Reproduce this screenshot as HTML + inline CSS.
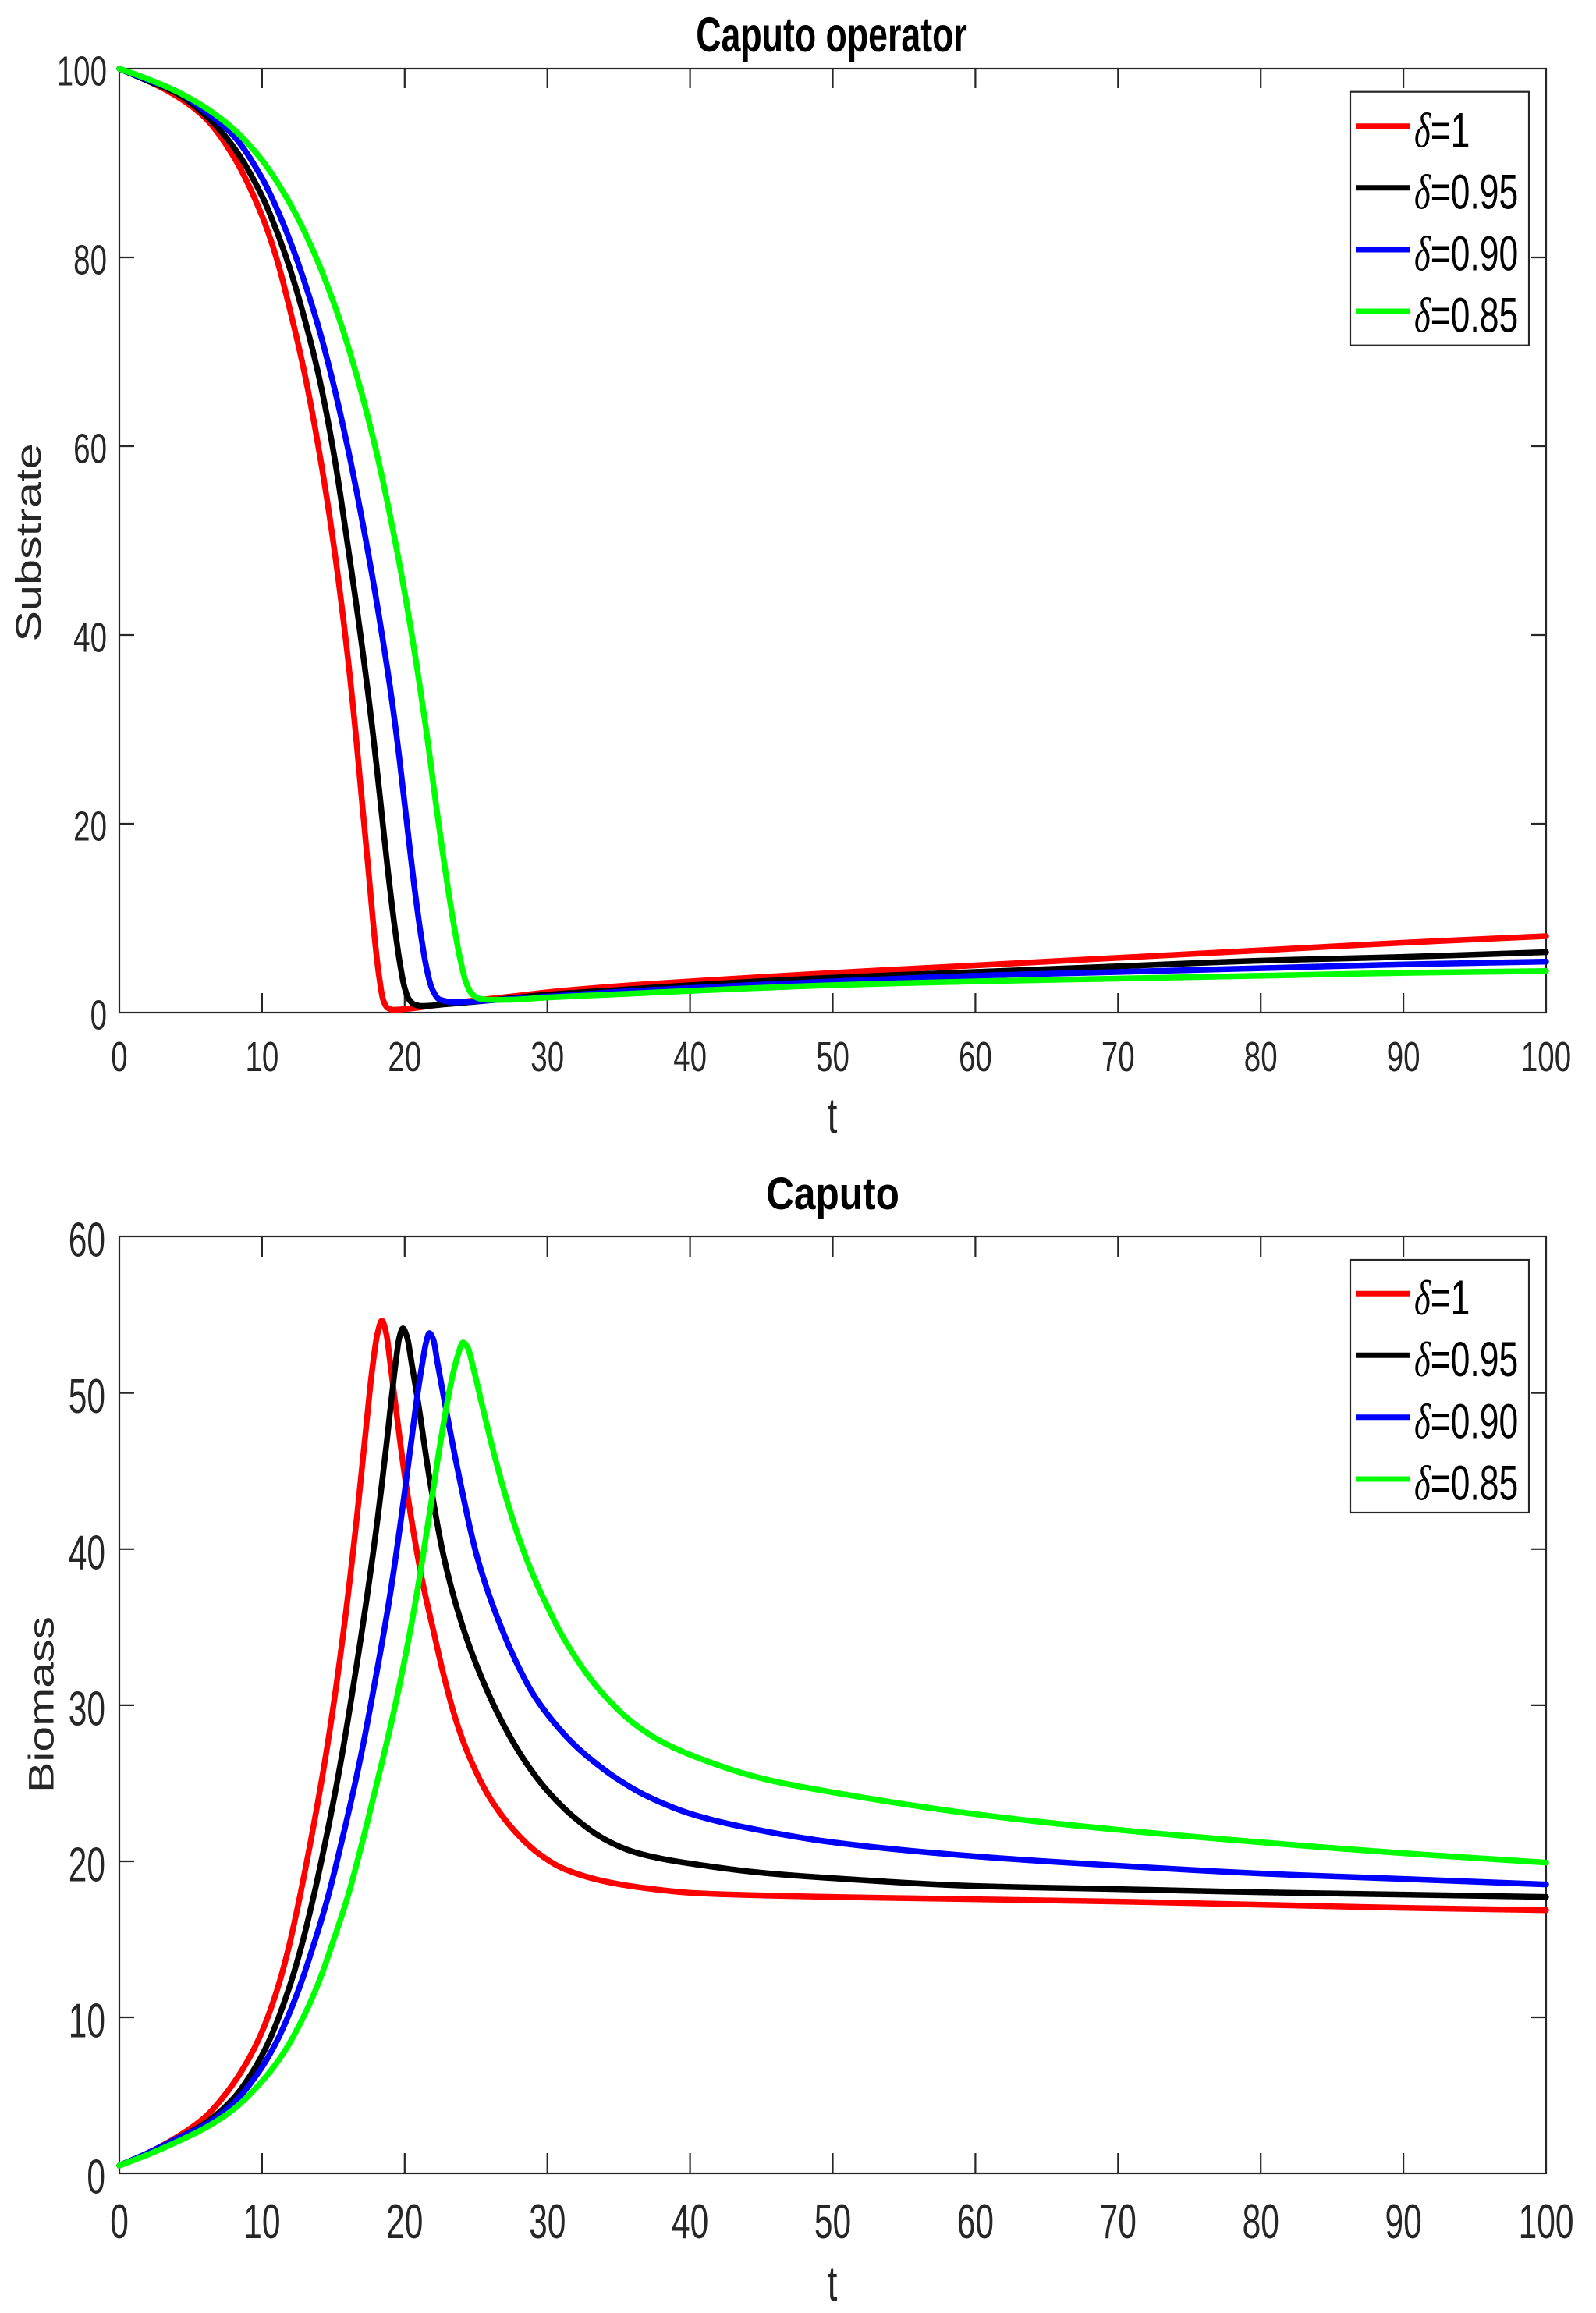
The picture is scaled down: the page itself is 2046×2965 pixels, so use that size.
<!DOCTYPE html>
<html>
<head>
<meta charset="utf-8">
<style>
html,body{margin:0;padding:0;background:#fff;}
svg{display:block;}
.tk{font-family:"Liberation Sans",sans-serif;fill:#262626;}
.lg{font-family:"Liberation Sans",sans-serif;fill:#000;}
.tt{font-family:"Liberation Sans",sans-serif;font-weight:bold;fill:#000;}
.cv{fill:none;stroke-width:7.5;stroke-linejoin:round;stroke-linecap:round;}
</style>
</head>
<body>
<svg width="2046" height="2965" viewBox="0 0 2046 2965" xmlns="http://www.w3.org/2000/svg">
<rect x="0" y="0" width="2046" height="2965" fill="#fff"/>

<!-- ================= TOP PLOT ================= -->
<text class="tt" font-size="44.7" text-anchor="middle" transform="translate(1066,66) scale(1,1.406)">Caputo operator</text>

<g fill="none" stroke="#262626" stroke-width="2.2">
<rect x="153" y="88" width="1829" height="1210"/>
<path d="M335.9 1298V1273M518.8 1298V1273M701.7 1298V1273M884.6 1298V1273M1067.5 1298V1273M1250.4 1298V1273M1433.3 1298V1273M1616.2 1298V1273M1799.1 1298V1273
M335.9 88V113M518.8 88V113M701.7 88V113M884.6 88V113M1067.5 88V113M1250.4 88V113M1433.3 88V113M1616.2 88V113M1799.1 88V113
M153 1056H172M153 814H172M153 572H172M153 330H172
M1982 1056H1963M1982 814H1963M1982 572H1963M1982 330H1963"/>
</g>

<g class="tk" font-size="38.5" text-anchor="middle">
<text transform="translate(153,1373) scale(1,1.39)">0</text>
<text transform="translate(335.9,1373) scale(1,1.39)">10</text>
<text transform="translate(518.8,1373) scale(1,1.39)">20</text>
<text transform="translate(701.7,1373) scale(1,1.39)">30</text>
<text transform="translate(884.6,1373) scale(1,1.39)">40</text>
<text transform="translate(1067.5,1373) scale(1,1.39)">50</text>
<text transform="translate(1250.4,1373) scale(1,1.39)">60</text>
<text transform="translate(1433.3,1373) scale(1,1.39)">70</text>
<text transform="translate(1616.2,1373) scale(1,1.39)">80</text>
<text transform="translate(1799.1,1373) scale(1,1.39)">90</text>
<text transform="translate(1982,1373) scale(1,1.39)">100</text>
</g>
<g class="tk" font-size="38.5" text-anchor="end">
<text transform="translate(137,1319.5) scale(1,1.39)">0</text>
<text transform="translate(137,1077.5) scale(1,1.39)">20</text>
<text transform="translate(137,835.5) scale(1,1.39)">40</text>
<text transform="translate(137,593.5) scale(1,1.39)">60</text>
<text transform="translate(137,351.5) scale(1,1.39)">80</text>
<text transform="translate(137,109.5) scale(1,1.39)">100</text>
</g>
<text class="tk" font-size="46" text-anchor="middle" transform="translate(1067,1452) scale(1,1.4)">t</text>
<text class="tk" font-size="45" text-anchor="middle" transform="translate(52,695.5) scale(1,1.32) rotate(-90)">Substrate</text>

<g transform="translate(153 1298) scale(18.29 -12.1)">
<polyline class="cv" vector-effect="non-scaling-stroke" stroke="#ff0000" points="0,100 2,98.7 4,97.1 6,94.8 8,90.7 10,84.4 11,80 12,74.2 13,67.6 14,59.5 15,49.8 16,37.8 16.5,30.6 17,22.5 17.5,14.4 17.9,7.8 18.2,3.9 18.5,1.3 18.8,0.5 19.2,0.3 20.5,0.45 22,0.75 25,1.3 28,1.8 30,2.15 35,2.8 40,3.3 50,4.2 60,5.0 70,5.8 80,6.6 90,7.4 100,8.1"/>
<polyline class="cv" vector-effect="non-scaling-stroke" stroke="#000000" points="0,100 2,98.7 4,97.4 6,95.1 8,91.7 10,86.5 11,82.9 12,78.6 13,73.4 14,67.3 15,59.5 16,49.6 17,38.9 17.7,30.5 18.24,23.2 18.6,18.1 18.97,13.1 19.35,8.5 19.7,4.9 20,2.6 20.3,1.4 20.7,0.85 21.2,0.7 23,0.9 26,1.3 30,1.9 35,2.4 40,2.9 50,3.7 60,4.3 70,4.9 80,5.5 90,5.9 100,6.4"/>
<polyline class="cv" vector-effect="non-scaling-stroke" stroke="#0000ff" points="0,100 2,98.8 4,97.6 6,95.5 8,92.9 10,88.4 11,85.3 12,81.6 13,77.3 14,72.4 15,66.6 16,59.9 17,52.3 17.88,44.9 18.4,40.1 18.97,34.5 19.5,28.5 20.06,21.3 20.45,16.2 20.79,12 21.2,7.6 21.52,4.8 21.9,2.6 22.43,1.4 23.5,1.1 26,1.3 30,1.7 35,2.2 40,2.6 50,3.3 60,3.9 70,4.3 80,4.7 90,5.1 100,5.4"/>
<polyline class="cv" vector-effect="non-scaling-stroke" stroke="#00ff00" points="0,100 2,98.9 4,97.6 6,95.9 8,93.6 10,90.3 12,85.6 13.5,81 15,75.3 16.5,68.2 18,59.5 19.5,48.6 20.5,40 21.5,30 22.3,20.9 23,13.5 23.5,8.8 23.9,5.6 24.3,3.2 24.7,2.0 25.2,1.5 26,1.35 27,1.35 30,1.6 35,1.95 40,2.3 50,2.9 60,3.3 70,3.6 80,3.9 90,4.2 100,4.4"/>
</g>

<rect x="1731" y="117.7" width="229" height="325" fill="#fff" stroke="#262626" stroke-width="2.2"/>
<g stroke-width="7">
<line x1="1738" y1="161.7" x2="1808" y2="161.7" stroke="#ff0000"/>
<line x1="1738" y1="240.7" x2="1808" y2="240.7" stroke="#000000"/>
<line x1="1738" y1="320" x2="1808" y2="320" stroke="#0000ff"/>
<line x1="1738" y1="399" x2="1808" y2="399" stroke="#00ff00"/>
</g>
<g class="lg" font-size="44.5">
<text transform="translate(1813,188.3) scale(1,1.42)"><tspan font-family="Liberation Serif" font-style="italic">δ</tspan>=1</text>
<text transform="translate(1813,267.3) scale(1,1.42)"><tspan font-family="Liberation Serif" font-style="italic">δ</tspan>=0.95</text>
<text transform="translate(1813,346.6) scale(1,1.42)"><tspan font-family="Liberation Serif" font-style="italic">δ</tspan>=0.90</text>
<text transform="translate(1813,425.6) scale(1,1.42)"><tspan font-family="Liberation Serif" font-style="italic">δ</tspan>=0.85</text>
</g>

<!-- ================= BOTTOM PLOT ================= -->
<text class="tt" font-size="49.6" text-anchor="middle" transform="translate(1067.5,1550) scale(1,1.18)">Caputo</text>

<g fill="none" stroke="#262626" stroke-width="2.2">
<rect x="153" y="1585" width="1829" height="1201"/>
<path d="M335.9 2786V2760M518.8 2786V2760M701.7 2786V2760M884.6 2786V2760M1067.5 2786V2760M1250.4 2786V2760M1433.3 2786V2760M1616.2 2786V2760M1799.1 2786V2760
M335.9 1585V1611M518.8 1585V1611M701.7 1585V1611M884.6 1585V1611M1067.5 1585V1611M1250.4 1585V1611M1433.3 1585V1611M1616.2 1585V1611M1799.1 1585V1611
M153 2586H172M153 2386H172M153 2185.9H172M153 1985.8H172M153 1785.6H172
M1982 2586H1963M1982 2386H1963M1982 2185.9H1963M1982 1985.8H1963M1982 1785.6H1963"/>
</g>

<g class="tk" font-size="42.5" text-anchor="middle">
<text transform="translate(153,2869) scale(1,1.47)">0</text>
<text transform="translate(335.9,2869) scale(1,1.47)">10</text>
<text transform="translate(518.8,2869) scale(1,1.47)">20</text>
<text transform="translate(701.7,2869) scale(1,1.47)">30</text>
<text transform="translate(884.6,2869) scale(1,1.47)">40</text>
<text transform="translate(1067.5,2869) scale(1,1.47)">50</text>
<text transform="translate(1250.4,2869) scale(1,1.47)">60</text>
<text transform="translate(1433.3,2869) scale(1,1.47)">70</text>
<text transform="translate(1616.2,2869) scale(1,1.47)">80</text>
<text transform="translate(1799.1,2869) scale(1,1.47)">90</text>
<text transform="translate(1982,2869) scale(1,1.47)">100</text>
</g>
<g class="tk" font-size="42.5" text-anchor="end">
<text transform="translate(135,2811.5) scale(1,1.47)">0</text>
<text transform="translate(135,2611.5) scale(1,1.47)">10</text>
<text transform="translate(135,2411.5) scale(1,1.47)">20</text>
<text transform="translate(135,2211.4) scale(1,1.47)">30</text>
<text transform="translate(135,2011.3) scale(1,1.47)">40</text>
<text transform="translate(135,1811.1) scale(1,1.47)">50</text>
<text transform="translate(135,1610.5) scale(1,1.47)">60</text>
</g>
<text class="tk" font-size="46" text-anchor="middle" transform="translate(1067,2949) scale(1,1.4)">t</text>
<text class="tk" font-size="45" text-anchor="middle" transform="translate(68.3,2185) scale(1,1.31) rotate(-90)">Biomass</text>

<g transform="translate(153 2786) scale(18.29 -20.02)">
<polyline class="cv" vector-effect="non-scaling-stroke" stroke="#ff0000" points="0,0.5 2,1.3 4,2.3 6,3.6 7.38,5.0 8.6,6.6 9.82,8.7 11.04,11.7 11.8,14.2 12.51,17.1 13.5,21.7 14.46,26.7 15.2,31.2 15.93,36.3 16.6,41.6 17.2,46.9 17.74,51.6 18.1,53.8 18.4,54.6 18.7,53.8 19,51.8 19.3,49.6 20.03,44.5 21.2,38.1 22,34.8 22.76,31.8 23.6,29.0 24.52,26.7 26,24.0 28.03,21.6 29.5,20.4 31.16,19.5 34,18.7 37,18.25 40.3,17.95 45,17.8 50,17.7 60,17.55 70,17.4 80,17.2 90,17.0 100,16.85"/>
<polyline class="cv" vector-effect="non-scaling-stroke" stroke="#000000" points="0,0.5 2,1.3 4,2.2 6,3.2 8,4.8 9.2,6.3 10.4,8.3 11.8,11.6 12.6,14.0 13.48,17.2 14.5,21.5 15.53,26.4 16.4,31.2 17.29,36.5 18,41.2 18.7,46.5 19.1,49.8 19.38,52.0 19.62,53.5 19.87,54.1 20.15,53.6 20.5,51.8 20.9,49.6 21.74,44.5 22.76,39.4 24,35.2 25.5,31.5 27,28.6 28.5,26.3 30,24.5 32,22.7 34,21.4 36,20.6 38,20.15 40.3,19.8 45,19.25 50,18.9 60,18.4 70,18.2 80,18.0 90,17.85 100,17.7"/>
<polyline class="cv" vector-effect="non-scaling-stroke" stroke="#0000ff" points="0,0.5 2,1.3 4,2.2 6,3.1 8,4.5 9.7,6.4 11,8.4 12.5,11.6 13.5,14.3 14.56,17.5 15.7,21.7 16.9,26.6 17.9,31.4 18.95,36.9 19.7,41.6 20.48,47.0 20.9,49.9 21.26,52.0 21.5,53.2 21.73,53.8 22.0,53.4 22.3,51.9 22.76,49.6 23.84,44.5 25.1,39.4 27.06,34.3 28.5,31.5 29,30.7 30,29.4 31,28.3 32,27.35 33,26.55 35,25.2 37,24.15 40.3,22.95 45,21.95 50,21.2 60,20.3 70,19.7 80,19.2 90,18.85 100,18.5"/>
<polyline class="cv" vector-effect="non-scaling-stroke" stroke="#00ff00" points="0,0.5 2,1.2 4,2.0 6,2.9 8,4.1 10,5.9 11.5,7.7 13,10.2 14,12.3 15,14.9 16,17.7 17,21.1 18,24.8 19,28.6 20,32.9 20.81,36.9 21.7,42.0 22.56,47.1 23.2,50.4 23.7,52.3 24.09,53.2 24.4,52.9 24.8,51.6 25.4,49.3 26.2,46.3 27,43.6 28,40.7 29,38.3 30,36.3 31,34.5 32,33.0 33,31.7 34,30.6 36,28.85 38,27.65 40.3,26.7 45,25.3 50,24.4 60,23.0 70,22.0 80,21.2 90,20.5 100,19.9"/>
</g>

<rect x="1731" y="1615" width="229" height="324" fill="#fff" stroke="#262626" stroke-width="2.2"/>
<g stroke-width="7">
<line x1="1738" y1="1658.3" x2="1808" y2="1658.3" stroke="#ff0000"/>
<line x1="1738" y1="1737.3" x2="1808" y2="1737.3" stroke="#000000"/>
<line x1="1738" y1="1816.7" x2="1808" y2="1816.7" stroke="#0000ff"/>
<line x1="1738" y1="1896" x2="1808" y2="1896" stroke="#00ff00"/>
</g>
<g class="lg" font-size="44.5">
<text transform="translate(1813,1684.9) scale(1,1.42)"><tspan font-family="Liberation Serif" font-style="italic">δ</tspan>=1</text>
<text transform="translate(1813,1763.9) scale(1,1.42)"><tspan font-family="Liberation Serif" font-style="italic">δ</tspan>=0.95</text>
<text transform="translate(1813,1843.3) scale(1,1.42)"><tspan font-family="Liberation Serif" font-style="italic">δ</tspan>=0.90</text>
<text transform="translate(1813,1922.6) scale(1,1.42)"><tspan font-family="Liberation Serif" font-style="italic">δ</tspan>=0.85</text>
</g>
</svg>
<script>
(function(){
  try{
    var pls=document.querySelectorAll('polyline.cv');
    for(var k=0;k<pls.length;k++){
      var pl=pls[k];
      var raw=pl.getAttribute('points').trim().split(/\s+/);
      var xs=[],ys=[];
      for(var i=0;i<raw.length;i++){var p=raw[i].split(',');xs.push(+p[0]);ys.push(+p[1]);}
      var n=xs.length; if(n<3) continue;
      var dx=[],m=[];
      for(i=0;i<n-1;i++){dx.push(xs[i+1]-xs[i]);m.push((ys[i+1]-ys[i])/dx[i]);}
      var c=[m[0]];
      for(i=1;i<n-1;i++){
        if(m[i-1]*m[i]<=0){c.push(0);}
        else{
          var d0=dx[i-1],d1=dx[i];
          c.push(3*(d0+d1)/((2*d1+d0)/m[i-1]+(d1+2*d0)/m[i]));
        }
      }
      c.push(m[n-2]);
      var out=[];
      for(i=0;i<n-1;i++){
        var h=dx[i];
        var steps=Math.max(2,Math.ceil(h/0.05));
        for(var s=0;s<steps;s++){
          var t=s/steps,t2=t*t,t3=t2*t;
          var h00=2*t3-3*t2+1,h10=t3-2*t2+t,h01=-2*t3+3*t2,h11=t3-t2;
          var y=h00*ys[i]+h10*h*c[i]+h01*ys[i+1]+h11*h*c[i+1];
          out.push((xs[i]+t*h).toFixed(4)+','+y.toFixed(4));
        }
      }
      out.push(xs[n-1]+','+ys[n-1]);
      pl.setAttribute('points',out.join(' '));
    }
  }catch(e){}
})();
</script>
</body>
</html>
